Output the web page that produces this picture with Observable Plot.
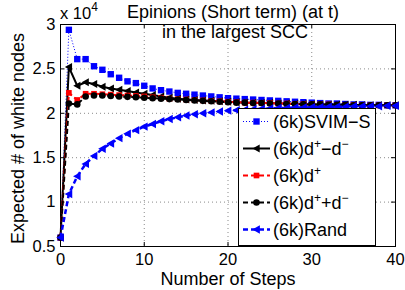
<!DOCTYPE html>
<html><head><meta charset="utf-8">
<script src="https://cdn.jsdelivr.net/npm/d3@7"></script>
<script src="https://cdn.jsdelivr.net/npm/@observablehq/plot@0.6"></script>
<style>body{margin:0;background:#fff}#chart{width:405px;height:290px}</style>
</head><body><div id="chart"></div>
<script>
// x: number of steps
const steps = [0,1,2,3,4,5,6,7,8,9,10,11,12,13,14,15,16,17,18,19,20,21,22,23,24,25,26,27,28,29,30,31,32,33,34,35,36,37,38,39,40];
// y: expected # of white nodes (x 10^4)
const svimS = [0.60,2.94,2.61,2.61,2.53,2.49,2.44,2.40,2.36,2.34,2.31,2.28,2.26,2.245,2.23,2.22,2.21,2.20,2.19,2.18,2.17,2.165,2.16,2.155,2.15,2.145,2.14,2.135,2.13,2.125,2.12,2.115,2.11,2.11,2.105,2.10,2.10,2.095,2.095,2.09,2.09];
const dPlusMinusDMinus = [0.60,2.52,2.31,2.35,2.33,2.30,2.28,2.265,2.25,2.235,2.22,2.205,2.19,2.175,2.165,2.155,2.15,2.145,2.14,2.135,2.13,2.125,2.12,2.12,2.115,2.115,2.11,2.11,2.105,2.105,2.10,2.10,2.10,2.095,2.095,2.095,2.09,2.09,2.09,2.09,2.09];
const dPlus = [0.60,2.23,2.15,2.22,2.22,2.215,2.21,2.205,2.20,2.195,2.19,2.18,2.175,2.165,2.16,2.155,2.15,2.145,2.14,2.135,2.13,2.125,2.12,2.12,2.115,2.115,2.11,2.11,2.105,2.105,2.10,2.10,2.10,2.095,2.095,2.095,2.09,2.09,2.09,2.09,2.09];
const dPlusPlusDMinus = [0.60,2.11,2.10,2.19,2.20,2.20,2.195,2.19,2.185,2.18,2.175,2.17,2.165,2.16,2.155,2.15,2.145,2.14,2.135,2.13,2.125,2.12,2.12,2.115,2.115,2.11,2.11,2.105,2.105,2.10,2.10,2.10,2.095,2.095,2.095,2.09,2.09,2.09,2.09,2.09,2.09];
const rand = [0.60,1.09,1.29,1.43,1.52,1.60,1.66,1.72,1.77,1.81,1.85,1.88,1.91,1.935,1.955,1.975,1.99,2.00,2.01,2.02,2.03,2.035,2.04,2.045,2.05,2.055,2.06,2.06,2.065,2.065,2.07,2.07,2.075,2.075,2.075,2.08,2.08,2.08,2.08,2.085,2.085];
const xTicks = [0,10,20,30,40];
const yTicks = [0.5,1,1.5,2,2.5,3];
const titleLine1 = "Epinions (Short term) (at t)";
const titleLine2 = "in the largest SCC";
const xLabel = "Number of Steps";
const yLabel = "Expected # of white nodes";

const triLeft = {draw(ctx, size) { const r = Math.sqrt(size / Math.PI); ctx.moveTo(-r, 0); ctx.lineTo(0.8 * r, -r); ctx.lineTo(0.8 * r, r); ctx.closePath(); }};

const series = [
  {key: "svim", values: svimS, color: "#0000ff", width: 1, dash: "1,2", symbol: "square", r: 3.6},
  {key: "dpm", values: dPlusMinusDMinus, color: "#000000", width: 2, dash: null, symbol: triLeft, r: 4},
  {key: "dp", values: dPlus, color: "#ff0000", width: 2, dash: "5,3", symbol: "square", r: 3.2},
  {key: "dppm", values: dPlusPlusDMinus, color: "#000000", width: 2, dash: "5,3", symbol: "circle", r: 3.3},
  {key: "rand", values: rand, color: "#0000ff", width: 2.5, dash: "5,3", symbol: triLeft, r: 4.2}
];
const rows = s => steps.map((x, i) => ({x, y: s.values[i]}));

const font = "'Liberation Sans', Arial, Helvetica, sans-serif";
const marks = [
  Plot.gridX(xTicks.slice(1, -1), {stroke: "#8a8a8a", strokeOpacity: 1, strokeDasharray: "1,3"}),
  Plot.gridY(yTicks.slice(1, -1), {stroke: "#8a8a8a", strokeOpacity: 1, strokeDasharray: "1,3"}),
  Plot.axisX(xTicks, {tickSize: 0, tickPadding: 7, label: null, fontSize: 16.5}),
  Plot.axisY(yTicks, {tickSize: 0, tickPadding: 5, label: null, fontSize: 16.5, tickFormat: d => String(d)}),
  Plot.ruleX(xTicks, {y1: 0.5, y2: 0.5 + 0.045, stroke: "#000"}),
  Plot.ruleX(xTicks, {y1: 3, y2: 3 - 0.045, stroke: "#000"}),
  Plot.ruleY(yTicks, {x1: 0, x2: 0.48, stroke: "#000"}),
  Plot.ruleY(yTicks, {x1: 40, x2: 40 - 0.48, stroke: "#000"}),
  Plot.frame({stroke: "#000", strokeWidth: 1})
];
for (const s of series) {
  marks.push(Plot.line(rows(s), {x: "x", y: "y", stroke: s.color, strokeWidth: s.width, strokeDasharray: s.dash, strokeLinecap: "butt"}));
  marks.push(Plot.dot(rows(s), {x: "x", y: "y", symbol: () => s.symbol, fill: s.color, stroke: "none", r: s.r}));
}
marks.push(
  Plot.text([titleLine1], {text: d => d, frameAnchor: "top", textAnchor: "middle", lineAnchor: "middle", dx: 5, dy: -12, fontSize: 18}),
  Plot.text([titleLine2], {text: d => d, frameAnchor: "top", textAnchor: "middle", lineAnchor: "middle", dx: 7, dy: 8, fontSize: 18}),
  Plot.text([xLabel], {text: d => d, frameAnchor: "bottom", textAnchor: "middle", lineAnchor: "middle", dy: 33, fontSize: 18}),
  Plot.text([yLabel], {text: d => d, frameAnchor: "left", textAnchor: "middle", lineAnchor: "middle", dx: -42, dy: 3, rotate: -90, fontSize: 18})
);

const plot = Plot.plot({
  width: 405, height: 290,
  marginLeft: 60, marginRight: 10, marginTop: 24, marginBottom: 44,
  style: {fontFamily: font, background: "#fff", color: "#000", overflow: "visible"},
  x: {domain: [0, 40]},
  y: {domain: [0.5, 3]},
  symbol: {type: "identity"},
  marks
});

const svg = d3.select(plot);
// exponent label
const ex = svg.append("text").attr("x", 60).attr("y", 19).attr("text-anchor", "start").attr("font-family", font).attr("font-size", 16.5).attr("fill", "#000");
ex.append("tspan").text("x 10");
ex.append("tspan").attr("dy", -8).attr("font-size", 12).text("4");

// legend
const lg = svg.append("g").attr("font-family", font).attr("font-size", 18).attr("text-anchor", "start");
lg.append("rect").attr("x", 238.5).attr("y", 108.5).attr("width", 137).attr("height", 137).attr("fill", "#fff").attr("stroke", "#000");
const labels = [
  [["(6k)SVIM\u2212S", null]],
  [["(6k)d", null], ["+", "sup"], ["\u2212d", null], ["\u2212", "sup"]],
  [["(6k)d", null], ["+", "sup"]],
  [["(6k)d", null], ["+", "sup"], ["+d", null], ["\u2212", "sup"]],
  [["(6k)Rand", null]]
];
const sym = (s) => typeof s.symbol === "string" ? (s.symbol === "square" ? d3.symbolSquare : d3.symbolCircle) : s.symbol;
series.forEach((s, i) => {
  const cy = 121.5 + i * 27;
  lg.append("line").attr("x1", 243).attr("x2", 270).attr("y1", cy).attr("y2", cy)
    .attr("stroke", s.color).attr("stroke-width", s.width).attr("stroke-dasharray", s.dash);
  lg.append("path").attr("transform", `translate(256.5,${cy})`)
    .attr("d", d3.symbol(sym(s), Math.PI * s.r * s.r)()).attr("fill", s.color);
  const t = lg.append("text").attr("x", 273).attr("y", cy + 6).attr("fill", "#000");
  let up = false;
  for (const [str, kind] of labels[i]) {
    const ts = t.append("tspan").text(str);
    if (kind === "sup" && !up) { ts.attr("dy", -7).attr("font-size", 12); up = true; }
    else if (kind === "sup") { ts.attr("font-size", 12); }
    else if (up) { ts.attr("dy", 7); up = false; }
  }
});
document.getElementById("chart").appendChild(plot);
</script>
</body></html>
